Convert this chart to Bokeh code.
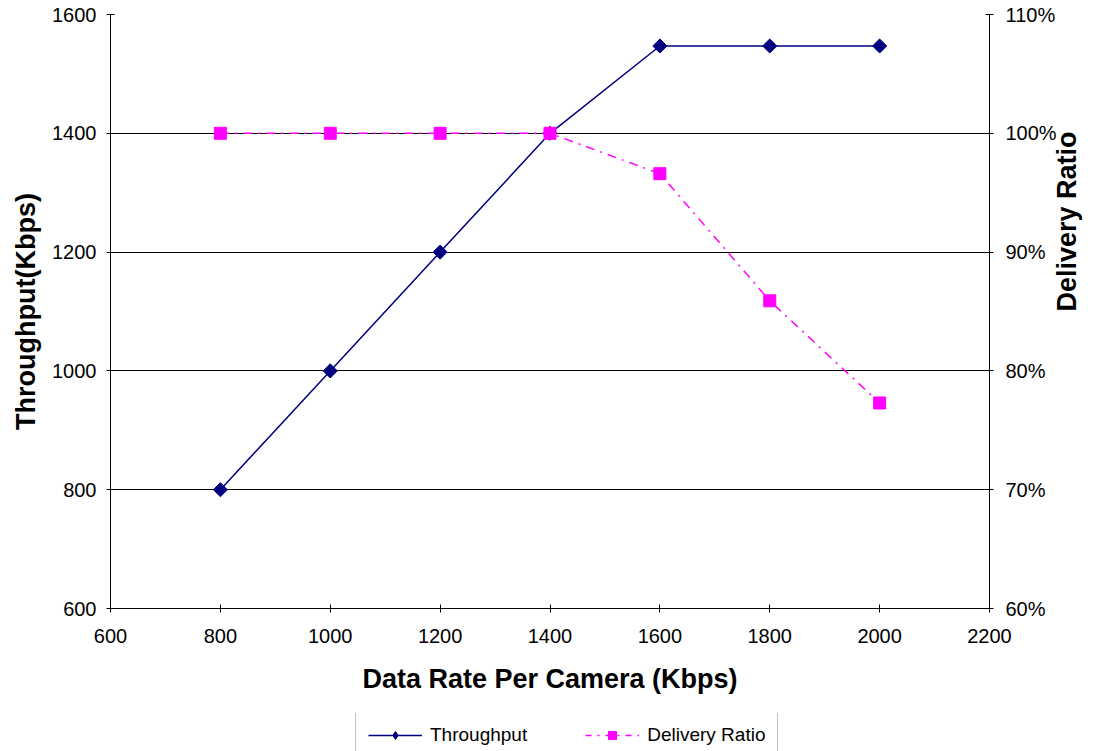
import math
from bokeh.plotting import figure
from bokeh.layouts import column
from bokeh.models import (Range1d, LinearAxis, FixedTicker, NumeralTickFormatter,
                          Legend, LegendItem)
from bokeh.embed import file_html
from bokeh.resources import INLINE

rates = [800, 1000, 1200, 1400, 1600, 1800, 2000]
throughput = [800, 1000, 1200, 1400, 1547, 1547, 1547]
delivery_ratio = [1.00, 1.00, 1.00, 1.00, 0.966, 0.859, 0.773]

x_ticks = [600, 800, 1000, 1200, 1400, 1600, 1800, 2000, 2200]
y_ticks = [600, 800, 1000, 1200, 1400, 1600]
r_ticks = [0.6, 0.7, 0.8, 0.9, 1.0, 1.1]

FONT = "Liberation Sans"
NAVY = "#000080"
MAGENTA = "#FF00FF"
DASH = "9 6 2 6"

p = figure(width=1099, height=713, output_backend="svg", toolbar_location=None,
           x_range=Range1d(600, 2200), y_range=Range1d(600, 1600),
           min_border_left=110, min_border_right=109, min_border_top=14,
           min_border_bottom=105)
p.extra_y_ranges = {"ratio": Range1d(0.6, 1.1)}
p.outline_line_color = None
p.background_fill_color = "white"
p.border_fill_color = "white"

p.xgrid.grid_line_color = None
p.ygrid.grid_line_color = "black"
p.ygrid.grid_line_width = 1
p.ygrid.ticker = FixedTicker(ticks=y_ticks)

def style_axis(ax):
    ax.axis_line_color = "black"
    ax.major_tick_line_color = "black"
    ax.major_tick_in = 4
    ax.major_tick_out = 4
    ax.minor_tick_line_color = None
    ax.major_label_text_font = FONT
    ax.major_label_text_font_size = "20px"
    ax.major_label_text_color = "black"
    ax.axis_label_text_font = FONT
    ax.axis_label_text_font_size = "27px"
    ax.axis_label_text_font_style = "bold"
    ax.axis_label_text_color = "black"

xa = p.xaxis[0]
style_axis(xa)
xa.ticker = FixedTicker(ticks=x_ticks)
xa.axis_label = "Data Rate Per Camera (Kbps)"
xa.major_label_standoff = 16
xa.axis_label_standoff = 18

ya = p.yaxis[0]
style_axis(ya)
ya.ticker = FixedTicker(ticks=y_ticks)
ya.axis_label = "Throughput(Kbps)"
ya.major_label_standoff = 10
ya.axis_label_standoff = 8

ra = LinearAxis(y_range_name="ratio")
style_axis(ra)
ra.ticker = FixedTicker(ticks=r_ticks)
ra.formatter = NumeralTickFormatter(format="0%")
ra.major_label_standoff = 12
ra.axis_label = "Delivery Ratio"
ra.axis_label_standoff = 7
if hasattr(ra, "axis_label_orientation"):
    ra.axis_label_orientation = math.pi / 2
p.add_layout(ra, "right")

p.line(rates, throughput, line_color=NAVY, line_width=1.5)
p.scatter(rates, throughput, marker="square", angle=math.pi / 4, size=10,
          fill_color=NAVY, line_color=NAVY)
p.line(rates, delivery_ratio, y_range_name="ratio", line_color=MAGENTA,
       line_width=1.5, line_dash=DASH)
p.scatter(rates, delivery_ratio, y_range_name="ratio", marker="square", size=12,
          fill_color=MAGENTA, line_color=MAGENTA)

# Legend strip under the chart (its data lie outside its own view; only the key shows)
lg = figure(width=1099, height=38, output_backend="svg", toolbar_location=None,
            x_range=Range1d(0, 1), y_range=Range1d(0, 1),
            x_axis_type=None, y_axis_type=None,
            min_border_left=0, min_border_right=0, min_border_top=0, min_border_bottom=0)
lg.outline_line_color = None
lg.xgrid.grid_line_color = None
lg.ygrid.grid_line_color = None
lg.border_fill_color = "white"
l1 = lg.line(rates, throughput, line_color=NAVY, line_width=1.5)
s1 = lg.scatter(rates, throughput, marker="diamond", size=17,
                fill_color=NAVY, line_color=NAVY)
l2 = lg.line(rates, delivery_ratio, line_color=MAGENTA, line_width=1.5, line_dash="6 6 2 6")
s2 = lg.scatter(rates, delivery_ratio, marker="square", size=11,
                fill_color=MAGENTA, line_color=MAGENTA)

legend = Legend(items=[LegendItem(label="Throughput", renderers=[l1, s1], index=0),
                       LegendItem(label="Delivery Ratio", renderers=[l2, s2], index=0)],
                orientation="horizontal", location=(245, -8))
legend.border_line_color = "#808080"
legend.border_line_width = 1.5
legend.background_fill_color = "white"
legend.background_fill_alpha = 1
legend.label_text_font = FONT
legend.label_text_font_size = "19px"
legend.label_text_color = "black"
legend.glyph_width = 54
legend.glyph_height = 20
legend.label_height = 20
legend.label_standoff = 8
legend.spacing = 58
legend.padding = 12
legend.margin = 0
lg.add_layout(legend, "center")

layout = column(p, lg, spacing=0)
open("out.html", "w").write(file_html(layout, INLINE))
